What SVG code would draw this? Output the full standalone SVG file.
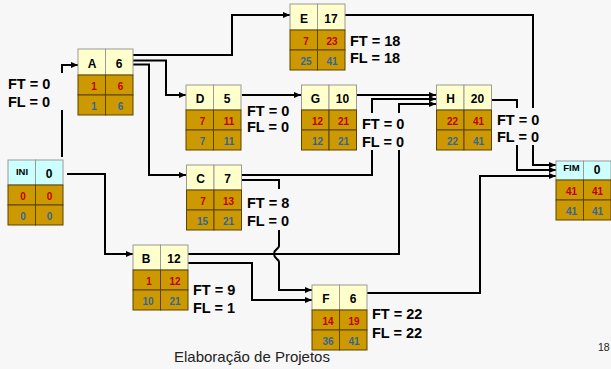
<svg xmlns="http://www.w3.org/2000/svg" width="611" height="369" viewBox="0 0 611 369">
  <defs>
    <style>
      .page{fill:#f7f7f7}
      .hd{fill:#ffffcc;stroke:#9a9a9a;stroke-width:1}
      .hc{fill:#ccffff;stroke:#9a9a9a;stroke-width:1}
      .cl{fill:#cc9900;stroke:#5c4300;stroke-width:1}
      .nm{font-family:"Liberation Sans",Arial,sans-serif;font-weight:bold;font-size:12px;fill:#000;text-anchor:middle}
      .tg{font-family:"Liberation Sans",Arial,sans-serif;font-weight:bold;font-size:9.5px;fill:#000;text-anchor:middle}
      .es{font-family:"Liberation Sans",Arial,sans-serif;font-weight:bold;font-size:10px;fill:#c00000;text-anchor:middle}
      .ls{font-family:"Liberation Sans",Arial,sans-serif;font-weight:bold;font-size:10px;fill:#336699;text-anchor:middle}
      .fl{font-family:"Liberation Sans",Arial,sans-serif;font-weight:bold;font-size:14.5px;fill:#000}
      .wire{fill:none;stroke:#000;stroke-width:2}
      .foot{font-family:"Liberation Sans",Arial,sans-serif;font-size:15px;fill:#222}
    </style>
    <marker id="ah" viewBox="0 0 7 6" refX="7" refY="3" markerWidth="7" markerHeight="6" markerUnits="userSpaceOnUse" orient="auto">
      <path d="M0,0 L7,3 L0,6 z" fill="#000"/>
    </marker>
  </defs>

  <rect class="page" x="0" y="0" width="611" height="369"/>

  <!-- connectors (gaps leave room for the slack labels) -->
  <g id="connectors">
    <path class="wire" d="M62,157 V110 M62,73 V65 H78" marker-end="url(#ah)"/>
    <path class="wire" d="M67,174 H105 V254 H133" marker-end="url(#ah)"/>
    <path class="wire" d="M133,55 H232 V15 H290" marker-end="url(#ah)"/>
    <path class="wire" d="M133,60.5 H166 V95 H186" marker-end="url(#ah)"/>
    <path class="wire" d="M133,64.5 H149 V175 H186" marker-end="url(#ah)"/>
    <path class="wire" d="M242,95 H301" marker-end="url(#ah)"/>
    <path class="wire" d="M357,95 H436" marker-end="url(#ah)"/>
    <path class="wire" d="M241,175 H372 V150 M372,113 V99 H436" marker-end="url(#ah)"/>
    <path class="wire" d="M187,254 H399 V150 M399,113 V104 H436" marker-end="url(#ah)"/>
    <!-- C to F hops over the B to H line -->
    <path class="wire" d="M241,180 H279 V189 M279,230 V246 C279,249 274,249 274,254 C274,259 279,259 279,262 V290 H312" marker-end="url(#ah)"/>
    <path class="wire" d="M187,263 H252 V300 H312" marker-end="url(#ah)"/>
    <path class="wire" d="M345,15 H533 V108 M533,145 V165 H556" marker-end="url(#ah)"/>
    <path class="wire" d="M492,100 H517 V108 M517,145 V170 H556" marker-end="url(#ah)"/>
    <path class="wire" d="M367,293 H480 V176 H556" marker-end="url(#ah)"/>
  </g>

  <!-- activity nodes: name | duration / early start | early finish / late start | late finish -->
  <g id="node-INI" transform="translate(8,160)">
    <rect class="hc" x="0" y="0" width="27.5" height="25"/>
    <rect class="hc" x="27.5" y="0" width="27.5" height="25"/>
    <rect class="cl" x="0" y="25" width="27.5" height="20"/>
    <rect class="cl" x="27.5" y="25" width="27.5" height="20"/>
    <rect class="cl" x="0" y="45" width="27.5" height="20"/>
    <rect class="cl" x="27.5" y="45" width="27.5" height="20"/>
    <text class="tg" x="14" y="15">INI</text>
    <text class="nm" x="41" y="18">0</text>
    <text class="es" x="15" y="40">0</text>
    <text class="es" x="41.5" y="40">0</text>
    <text class="ls" x="15" y="60">0</text>
    <text class="ls" x="41.5" y="60">0</text>
  </g>

  <g id="node-A" transform="translate(78,49)">
    <rect class="hd" x="0" y="0" width="27.5" height="26"/>
    <rect class="hd" x="27.5" y="0" width="27.5" height="26"/>
    <rect class="cl" x="0" y="26" width="27.5" height="20"/>
    <rect class="cl" x="27.5" y="26" width="27.5" height="20"/>
    <rect class="cl" x="0" y="46" width="27.5" height="20"/>
    <rect class="cl" x="27.5" y="46" width="27.5" height="20"/>
    <text class="nm" x="14" y="18.5">A</text>
    <text class="nm" x="41" y="18.5">6</text>
    <text class="es" x="16" y="41">1</text>
    <text class="es" x="42.5" y="41">6</text>
    <text class="ls" x="16" y="61">1</text>
    <text class="ls" x="42.5" y="61">6</text>
  </g>
  <text class="fl" x="8" y="89">FT = 0</text>
  <text class="fl" x="8" y="107">FL = 0</text>

  <g id="node-E" transform="translate(290,4)">
    <rect class="hd" x="0" y="0" width="27.5" height="26"/>
    <rect class="hd" x="27.5" y="0" width="27.5" height="26"/>
    <rect class="cl" x="0" y="26" width="27.5" height="20"/>
    <rect class="cl" x="27.5" y="26" width="27.5" height="20"/>
    <rect class="cl" x="0" y="46" width="27.5" height="20"/>
    <rect class="cl" x="27.5" y="46" width="27.5" height="20"/>
    <text class="nm" x="14" y="18.5">E</text>
    <text class="nm" x="41" y="18.5">17</text>
    <text class="es" x="16" y="41">7</text>
    <text class="es" x="42" y="41">23</text>
    <text class="ls" x="16" y="61">25</text>
    <text class="ls" x="42" y="61">41</text>
  </g>
  <text class="fl" x="350" y="45.5">FT = 18</text>
  <text class="fl" x="350" y="63">FL = 18</text>

  <g id="node-D" transform="translate(186,85)">
    <rect class="hd" x="0" y="0" width="27.5" height="25"/>
    <rect class="hd" x="27.5" y="0" width="27.5" height="25"/>
    <rect class="cl" x="0" y="25" width="27.5" height="20"/>
    <rect class="cl" x="27.5" y="25" width="27.5" height="20"/>
    <rect class="cl" x="0" y="45" width="27.5" height="20"/>
    <rect class="cl" x="27.5" y="45" width="27.5" height="20"/>
    <text class="nm" x="14" y="18">D</text>
    <text class="nm" x="41" y="18">5</text>
    <text class="es" x="16.5" y="40">7</text>
    <text class="es" x="43" y="40">11</text>
    <text class="ls" x="16.5" y="60">7</text>
    <text class="ls" x="43" y="60">11</text>
  </g>
  <text class="fl" x="247" y="115.5">FT = 0</text>
  <text class="fl" x="247" y="132">FL = 0</text>

  <g id="node-G" transform="translate(301.5,85)">
    <rect class="hd" x="0" y="0" width="27.5" height="25"/>
    <rect class="hd" x="27.5" y="0" width="27.5" height="25"/>
    <rect class="cl" x="0" y="25" width="27.5" height="20"/>
    <rect class="cl" x="27.5" y="25" width="27.5" height="20"/>
    <rect class="cl" x="0" y="45" width="27.5" height="20"/>
    <rect class="cl" x="27.5" y="45" width="27.5" height="20"/>
    <text class="nm" x="14" y="18">G</text>
    <text class="nm" x="41" y="18">10</text>
    <text class="es" x="16" y="40">12</text>
    <text class="es" x="42" y="40">21</text>
    <text class="ls" x="16" y="60">12</text>
    <text class="ls" x="42" y="60">21</text>
  </g>
  <text class="fl" x="362" y="128.5">FT = 0</text>
  <text class="fl" x="362" y="146.5">FL = 0</text>

  <g id="node-H" transform="translate(436.5,85)">
    <rect class="hd" x="0" y="0" width="27.5" height="25"/>
    <rect class="hd" x="27.5" y="0" width="27.5" height="25"/>
    <rect class="cl" x="0" y="25" width="27.5" height="20"/>
    <rect class="cl" x="27.5" y="25" width="27.5" height="20"/>
    <rect class="cl" x="0" y="45" width="27.5" height="20"/>
    <rect class="cl" x="27.5" y="45" width="27.5" height="20"/>
    <text class="nm" x="14" y="18">H</text>
    <text class="nm" x="41" y="18">20</text>
    <text class="es" x="16" y="40">22</text>
    <text class="es" x="42" y="40">41</text>
    <text class="ls" x="16" y="60">22</text>
    <text class="ls" x="42" y="60">41</text>
  </g>
  <text class="fl" x="497" y="124.5">FT = 0</text>
  <text class="fl" x="497" y="142">FL = 0</text>

  <g id="node-C" transform="translate(186.5,165)">
    <rect class="hd" x="0" y="0" width="27.5" height="25"/>
    <rect class="hd" x="27.5" y="0" width="27.5" height="25"/>
    <rect class="cl" x="0" y="25" width="27.5" height="20"/>
    <rect class="cl" x="27.5" y="25" width="27.5" height="20"/>
    <rect class="cl" x="0" y="45" width="27.5" height="20"/>
    <rect class="cl" x="27.5" y="45" width="27.5" height="20"/>
    <text class="nm" x="14" y="18">C</text>
    <text class="nm" x="41" y="18">7</text>
    <text class="es" x="16.5" y="40">7</text>
    <text class="es" x="42" y="40">13</text>
    <text class="ls" x="16" y="60">15</text>
    <text class="ls" x="42" y="60">21</text>
  </g>
  <text class="fl" x="247" y="207.5">FT = 8</text>
  <text class="fl" x="247" y="225.5">FL = 0</text>

  <g id="node-B" transform="translate(133,245)">
    <rect class="hd" x="0" y="0" width="27.5" height="25"/>
    <rect class="hd" x="27.5" y="0" width="27.5" height="25"/>
    <rect class="cl" x="0" y="25" width="27.5" height="20"/>
    <rect class="cl" x="27.5" y="25" width="27.5" height="20"/>
    <rect class="cl" x="0" y="45" width="27.5" height="20"/>
    <rect class="cl" x="27.5" y="45" width="27.5" height="20"/>
    <text class="nm" x="13" y="18">B</text>
    <text class="nm" x="41" y="18">12</text>
    <text class="es" x="16" y="40">1</text>
    <text class="es" x="42" y="40">12</text>
    <text class="ls" x="15" y="60">10</text>
    <text class="ls" x="42" y="60">21</text>
  </g>
  <text class="fl" x="193" y="294.5">FT = 9</text>
  <text class="fl" x="193" y="312.5">FL = 1</text>

  <g id="node-F" transform="translate(312,285)">
    <rect class="hd" x="0" y="0" width="27.5" height="25"/>
    <rect class="hd" x="27.5" y="0" width="27.5" height="25"/>
    <rect class="cl" x="0" y="25" width="27.5" height="20"/>
    <rect class="cl" x="27.5" y="25" width="27.5" height="20"/>
    <rect class="cl" x="0" y="45" width="27.5" height="20"/>
    <rect class="cl" x="27.5" y="45" width="27.5" height="20"/>
    <text class="nm" x="14" y="18">F</text>
    <text class="nm" x="41" y="18">6</text>
    <text class="es" x="16" y="40">14</text>
    <text class="es" x="42" y="40">19</text>
    <text class="ls" x="16" y="60">36</text>
    <text class="ls" x="42" y="60">41</text>
  </g>
  <text class="fl" x="372" y="319">FT = 22</text>
  <text class="fl" x="372" y="337.5">FL = 22</text>

  <g id="node-FIM" transform="translate(556,161)">
    <rect class="hc" x="0" y="0" width="27.5" height="19"/>
    <rect class="hc" x="27.5" y="0" width="27.5" height="19"/>
    <rect class="cl" x="0" y="19" width="27.5" height="20"/>
    <rect class="cl" x="27.5" y="19" width="27.5" height="20"/>
    <rect class="cl" x="0" y="39" width="27.5" height="20"/>
    <rect class="cl" x="27.5" y="39" width="27.5" height="20"/>
    <text class="tg" x="15.5" y="10">FIM</text>
    <text class="nm" x="41" y="12.5">0</text>
    <text class="es" x="15.5" y="34">41</text>
    <text class="es" x="41.5" y="34">41</text>
    <text class="ls" x="15.5" y="54">41</text>
    <text class="ls" x="41.5" y="54">41</text>
  </g>

  <text class="foot" x="174" y="362">Elaboração de Projetos</text>
  <text class="foot" x="598" y="351" style="font-size:10.5px">18</text>
</svg>
